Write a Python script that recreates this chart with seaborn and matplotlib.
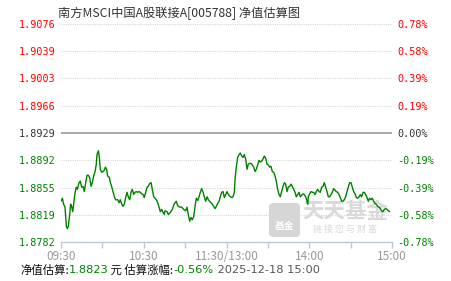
import matplotlib
matplotlib.use("Agg")
import matplotlib.pyplot as plt
import seaborn as sns
import pandas as pd
from matplotlib.patches import FancyBboxPatch

# ---------------- data ----------------
title = "南方MSCI中国A股联接A[005788] 净值估算图"

# minutes since 09:30 (trading minutes, 11:30/13:00 merged)
minutes = [
    0.0, 1.0, 1.9, 2.9, 3.9, 4.6, 5.3, 6.3, 7.0, 7.7, 8.5, 9.2, 10.2, 11.1, 11.8, 13.1, 14.0, 15.0, 16.0, 16.9,
    17.9, 18.9, 19.8, 20.8, 21.8, 22.7, 23.7, 24.7, 25.6, 26.1, 27.1, 27.8, 28.5, 29.5, 30.5, 31.4, 32.2, 33.1, 33.8, 35.1,
    35.8, 36.7, 37.7, 38.7, 39.6, 41.1, 42.1, 43.0, 44.0, 45.0, 45.9, 46.9, 47.9, 48.8, 49.8, 50.8, 51.7, 52.7, 53.7, 54.6,
    55.6, 56.6, 57.5, 58.5, 59.5, 60.4, 61.4, 62.4, 63.3, 64.3, 65.3, 66.2, 67.2, 68.2, 69.1, 70.1, 71.1, 72.0, 73.0, 74.0,
    74.9,
    75.4, 76.9, 77.8, 79.3, 80.7, 82.2, 83.6, 84.6, 86.0, 87.5, 88.9, 90.4, 91.4, 92.3, 93.3, 94.3, 95.2, 96.2, 97.2, 98.1,
    99.1, 100.1, 101.0, 102.0, 103.0, 103.9, 104.9, 105.9, 106.8, 107.8, 108.8, 109.7, 110.7, 111.7, 112.6, 113.6, 114.6, 115.5, 116.5, 117.5,
    118.4, 119.4, 120.4, 121.3, 122.8, 123.8, 124.7, 125.7, 126.2, 127.1, 128.1, 129.1, 130.0, 131.0, 132.0, 132.9, 133.9, 134.9, 135.8, 136.8,
    137.8, 138.7, 139.7, 140.7, 141.6, 142.6, 143.6, 144.5, 145.5, 146.5, 147.4, 148.4, 149.4, 150.3, 151.3, 152.3, 153.2, 154.2,
    155.2, 156.1, 157.1, 158.1, 159.0, 160.0, 161.0, 161.9, 162.9, 163.9, 164.8, 165.8, 166.8, 167.7, 168.7, 169.7, 170.6, 171.6, 172.6, 173.5,
    174.5, 175.5, 176.4, 177.4, 178.4, 178.9, 179.3, 180.3, 181.3, 182.2, 183.2, 184.2, 185.1, 186.1, 187.1, 188.0, 189.0, 190.0, 190.9, 191.9,
    192.9, 193.8, 194.8, 195.8, 196.7, 197.7, 198.7, 199.6, 200.6, 201.6, 202.5, 203.5, 204.5, 205.4, 206.4, 207.4, 208.3, 209.3, 210.3, 211.2,
    212.2, 213.2, 214.1, 215.1, 216.1, 217.0, 218.0, 219.0, 219.9, 220.9, 221.9, 222.8, 223.8, 224.8, 225.7, 226.7, 227.7, 228.6, 229.6, 230.6,
    231.5, 232.5, 233.5, 234.4, 235.4, 236.4, 237.4, 238.3,
]

nav = [
    1.8837, 1.8841, 1.8833, 1.8829, 1.8803, 1.8800, 1.8803, 1.8819, 1.8833, 1.8830, 1.8823, 1.8833, 1.8849, 1.8856, 1.8853, 1.8862, 1.8864, 1.8856, 1.8857, 1.8850,
    1.8862, 1.8872, 1.8872, 1.8869, 1.8857, 1.8862, 1.8871, 1.8877, 1.8887, 1.8900, 1.8905, 1.8896, 1.8880, 1.8876, 1.8877, 1.8879, 1.8883, 1.8880, 1.8871, 1.8869,
    1.8862, 1.8857, 1.8850, 1.8843, 1.8839, 1.8839, 1.8835, 1.8839, 1.8833, 1.8830, 1.8833, 1.8842, 1.8849, 1.8843, 1.8839, 1.8849, 1.8853, 1.8846, 1.8849, 1.8850,
    1.8849, 1.8850, 1.8849, 1.8847, 1.8846, 1.8842, 1.8849, 1.8856, 1.8857, 1.8861, 1.8862, 1.8853, 1.8843, 1.8841, 1.8839, 1.8835, 1.8829, 1.8823, 1.8826, 1.8822,
    1.8819,
    1.8824, 1.8823, 1.8819, 1.8822, 1.8826, 1.8834, 1.8837, 1.8831, 1.8829, 1.8829, 1.8826, 1.8824, 1.8829, 1.8819, 1.8810, 1.8815, 1.8812, 1.8816, 1.8830, 1.8841,
    1.8838, 1.8843, 1.8849, 1.8854, 1.8849, 1.8843, 1.8837, 1.8843, 1.8839, 1.8837, 1.8835, 1.8833, 1.8830, 1.8827, 1.8830, 1.8834, 1.8837, 1.8843, 1.8849, 1.8850,
    1.8842, 1.8846, 1.8850, 1.8846, 1.8843, 1.8842, 1.8843, 1.8849, 1.8867, 1.8883, 1.8896, 1.8900, 1.8902, 1.8898, 1.8896, 1.8900, 1.8894, 1.8880, 1.8887, 1.8888,
    1.8888, 1.8886, 1.8883, 1.8877, 1.8880, 1.8886, 1.8892, 1.8890, 1.8891, 1.8894, 1.8898, 1.8895, 1.8887, 1.8886, 1.8883, 1.8884, 1.8877, 1.8876,
    1.8871, 1.8864, 1.8853, 1.8846, 1.8843, 1.8850, 1.8857, 1.8862, 1.8860, 1.8850, 1.8856, 1.8857, 1.8860, 1.8857, 1.8853, 1.8849, 1.8843, 1.8846, 1.8849, 1.8843,
    1.8845, 1.8847, 1.8846, 1.8843, 1.8837, 1.8833, 1.8843, 1.8847, 1.8850, 1.8849, 1.8849, 1.8846, 1.8850, 1.8853, 1.8850, 1.8849, 1.8856, 1.8857, 1.8862, 1.8856,
    1.8850, 1.8843, 1.8843, 1.8846, 1.8849, 1.8854, 1.8852, 1.8850, 1.8849, 1.8846, 1.8842, 1.8837, 1.8837, 1.8839, 1.8843, 1.8850, 1.8856, 1.8862, 1.8862, 1.8856,
    1.8850, 1.8847, 1.8842, 1.8841, 1.8843, 1.8846, 1.8843, 1.8849, 1.8849, 1.8846, 1.8842, 1.8837, 1.8841, 1.8839, 1.8841, 1.8837, 1.8834, 1.8833, 1.8830, 1.8829,
    1.8827, 1.8824, 1.8823, 1.8826, 1.8827, 1.8826, 1.8824, 1.8823,
]

y_ticks = [1.9076, 1.9039, 1.9003, 1.8966, 1.8929, 1.8892, 1.8855, 1.8819, 1.8782]
left_labels = ["1.9076", "1.9039", "1.9003", "1.8966", "1.8929", "1.8892", "1.8855", "1.8819", "1.8782"]
right_labels = ["0.78%", "0.58%", "0.39%", "0.19%", "0.00%", "-0.19%", "-0.39%", "-0.58%", "-0.78%"]
base_nav = 1.8929

x_ticks = [0, 60, 120, 180, 240]
x_labels = ["09:30", "10:30", "11:30/13:00", "14:00", "15:00"]
x_minor = [30, 90, 150, 210]

est_nav = "1.8823"
est_pct = "-0.56%"
est_time = "2025-12-18 15:00"

# ---------------- style ----------------
sns.set_theme(style="white")
plt.rcParams["font.family"] = ["Noto Sans CJK SC", "DejaVu Sans"]

RED = "#ff0000"
GREEN = "#008000"
DARK = "#333333"
AXIS = "#b9c9db"
MONO = ["DejaVu Sans Mono", "Noto Sans CJK SC"]
WM = "#d9d9d9"

fig = plt.figure(figsize=(4.51, 2.81), dpi=100)
ax = fig.add_axes([61 / 451, 1 - 242 / 281, 331 / 451, 218 / 281])
ax.set_zorder(1)

df = pd.DataFrame({"minute": minutes, "nav": nav})

# watermark (behind the line)
logo = FancyBboxPatch((269 / 451, 1 - 237 / 281), 31 / 451, 34 / 281,
                      boxstyle="round,pad=0,rounding_size=0.012",
                      transform=fig.transFigure, facecolor="#d6d6d6", edgecolor="none", zorder=-2)
fig.patches.append(logo)
fig.text(284.5 / 451, 1 - 226 / 281, "基金", color="white", fontsize=7, fontweight="bold",
         ha="center", va="center", family=["Noto Sans CJK SC"], zorder=-1)
fig.text(345 / 451, 1 - 211 / 281, "天天基金", color=WM, fontsize=15.5, fontweight="bold",
         ha="center", va="center", family=["Noto Sans CJK SC"], zorder=-1)
fig.text(345 / 451, 1 - 229 / 281, "链 接 您 与 财 富", color=WM, fontsize=6.5,
         ha="center", va="center", family=["Noto Sans CJK SC"], zorder=-1)
ax.patch.set_alpha(0)

# grid lines
for t in y_ticks:
    if abs(t - base_nav) < 1e-9:
        ax.axhline(t, color="#999999", lw=1.2, zorder=1)
    elif t != y_ticks[-1]:
        ax.axhline(t, color="#d8d8d8", lw=0.8, ls=(0, (1, 1)), zorder=1)

sns.lineplot(data=df, x="minute", y="nav", ax=ax, color=GREEN, lw=1.0, zorder=3)

ax.set_xlim(0, 240)
ax.set_ylim(y_ticks[-1], y_ticks[0])
ax.set_xlabel("")
ax.set_ylabel("")

for s in ["top", "left", "right"]:
    ax.spines[s].set_visible(False)
ax.spines["bottom"].set_color(AXIS)
ax.spines["bottom"].set_linewidth(1.0)

ax.set_xticks(x_ticks)
ax.set_xticklabels(x_labels)
ax.set_xticks(x_minor, minor=True)
ax.tick_params(axis="x", which="both", direction="out", length=4, color=AXIS, width=1,
               labelsize=8.5, labelcolor="#999999", pad=2, bottom=True)

ax.set_yticks(y_ticks)
ax.set_yticklabels(left_labels, family=MONO, fontsize=7.3)
ax.tick_params(axis="y", length=0, pad=4, left=True)

ax2 = ax.twinx()
ax2.set_zorder(0)
ax2.set_ylim(ax.get_ylim())
ax2.set_yticks(y_ticks)
ax2.set_yticklabels(right_labels, family=MONO, fontsize=7.3)
ax2.tick_params(axis="y", length=0, pad=4)
for s in ["top", "left", "right", "bottom"]:
    ax2.spines[s].set_visible(False)
ax2.patch.set_alpha(0)


def lab_color(t):
    if t > base_nav + 1e-9:
        return RED
    if t < base_nav - 1e-9:
        return GREEN
    return DARK


for t, lab in zip(y_ticks, ax.get_yticklabels()):
    lab.set_color(lab_color(t))
for t, lab in zip(y_ticks, ax2.get_yticklabels()):
    lab.set_color(lab_color(t))

# title
fig.text(58 / 451, 1 - 13 / 281, title, color=DARK, fontsize=8.8, ha="left", va="center")

# footer
y_f = 1 - 270 / 281
parts = [("净值估算:", "#111111", ["Noto Sans CJK SC"]),
         (est_nav, GREEN, ["DejaVu Sans"]),
         (" 元 估算涨幅:", "#111111", ["Noto Sans CJK SC"]),
         (est_pct, GREEN, ["DejaVu Sans"]),
         (" " + est_time, "#555555", ["DejaVu Sans"])]
fig.canvas.draw()
renderer = fig.canvas.get_renderer()
x_cur = 20 / 451
for txt, col, fam in parts:
    t = fig.text(x_cur, y_f, txt, color=col, fontsize=8.2, ha="left", va="center", family=fam)
    bb = t.get_window_extent(renderer=renderer)
    x_cur += bb.width / fig.bbox.width

fig.savefig("out.png", dpi=100)
